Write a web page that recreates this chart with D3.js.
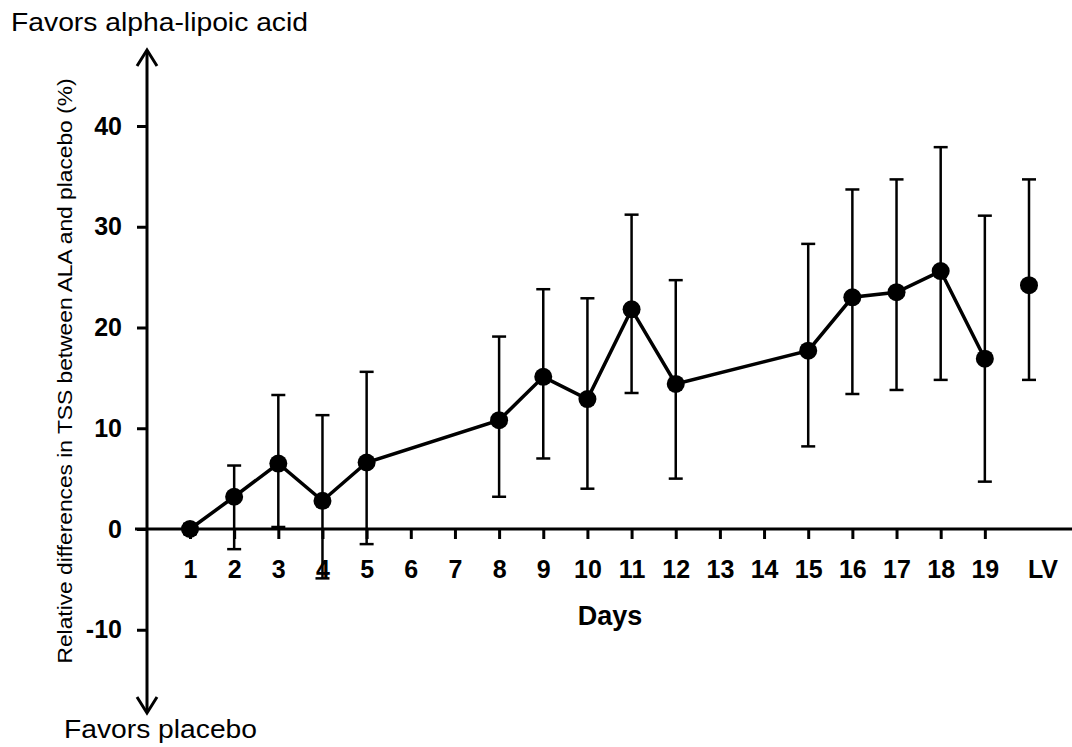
<!DOCTYPE html>
<html>
<head>
<meta charset="utf-8">
<script src="https://cdn.jsdelivr.net/npm/d3@7"></script>
<style>
  body { margin: 0; background: #fff; }
  text { font-family: Arial, "Liberation Sans", sans-serif; fill: #000; }
  .tick text { font-weight: bold; font-size: 25px; }
</style>
</head>
<body>
<div id="chart"></div>
<script>
// categories on the x axis (no data for 6, 7, 13, 14)
var categories = ["1","2","3","4","5","6","7","8","9","10","11","12","13","14","15","16","17","18","19","LV"];
var yTicks = [-10, 0, 10, 20, 30, 40];

var days  = ["1","2","3","4","5","8","9","10","11","12","15","16","17","18","19","LV"];
var means = [0, 3.2, 6.5, 2.8, 6.6, 10.8, 15.1, 12.9, 21.8, 14.4, 17.7, 23.0, 23.5, 25.6, 16.9, 24.2];
var upper = [0.5, 6.3, 13.3, 11.3, 15.6, 19.1, 23.8, 22.9, 31.2, 24.7, 28.3, 33.7, 34.7, 37.9, 31.1, 34.7];
var lower = [-0.5, -2.0, 0.2, -4.9, -1.5, 3.2, 7.0, 4.0, 13.5, 5.0, 8.2, 13.4, 13.8, 14.8, 4.7, 14.8];

function init() {
  var w = 1072;
  var h = 747;

  var dataset = days.map(function(d, i) {
    return { day: d, mean: means[i], hi: upper[i], lo: lower[i] };
  });

  var svg = d3.select("#chart")
              .append("svg")
              .attr("width", w)
              .attr("height", h);

  var xScale = d3.scalePoint()
                 .domain(categories)
                 .range([190, 1029]);

  var yScale = d3.scaleLinear()
                 .domain([-10, 40])
                 .range([629.75, 126]);

  var axisX = 147;
  var zeroY = yScale(0);

  // x axis: ticks for the days only, LV label added by hand
  var xAxis = d3.axisBottom(xScale)
                .tickValues(categories.filter(function(c) { return c !== "LV"; }))
                .tickSize(10)
                .tickPadding(21);

  var gx = svg.append("g")
     .attr("transform", "translate(0," + zeroY + ")")
     .call(xAxis);
  gx.select(".domain").remove();
  gx.selectAll(".tick line").attr("stroke", "#000").attr("stroke-width", 3);

  svg.append("line")
     .attr("x1", 135).attr("x2", w)
     .attr("y1", zeroY).attr("y2", zeroY)
     .attr("stroke", "#000").attr("stroke-width", 3);

  svg.append("text")
     .attr("x", xScale("LV") + 14)
     .attr("y", zeroY + 31)
     .attr("dy", "0.71em")
     .attr("text-anchor", "middle")
     .style("font-weight", "bold")
     .style("font-size", "25px")
     .text("LV");

  // y axis (plain hyphen for negatives, like the original)
  var yAxis = d3.axisLeft(yScale)
                .tickValues(yTicks)
                .tickSize(10)
                .tickPadding(15)
                .tickFormat(function(d) { return String(d); });

  var gy = svg.append("g")
     .attr("transform", "translate(" + axisX + ",0)")
     .call(yAxis);
  gy.select(".domain").remove();
  gy.selectAll(".tick line").attr("stroke", "#000").attr("stroke-width", 3);

  // axis line with arrow heads on both ends
  var top = 50, bottom = 713;
  svg.append("line")
     .attr("x1", axisX).attr("x2", axisX)
     .attr("y1", top + 1).attr("y2", bottom - 1)
     .attr("stroke", "#000").attr("stroke-width", 3);
  svg.append("path")
     .attr("d", "M" + (axisX - 10) + "," + (top + 16) + "L" + axisX + "," + top + "L" + (axisX + 10) + "," + (top + 16))
     .attr("fill", "none").attr("stroke", "#000").attr("stroke-width", 3);
  svg.append("path")
     .attr("d", "M" + (axisX - 10) + "," + (bottom - 16) + "L" + axisX + "," + bottom + "L" + (axisX + 10) + "," + (bottom - 16))
     .attr("fill", "none").attr("stroke", "#000").attr("stroke-width", 3);

  // error bars
  var bars = svg.append("g").attr("stroke", "#000").attr("stroke-width", 2.5);
  bars.selectAll(".ebar")
      .data(dataset)
      .enter().append("line")
      .attr("x1", function(d) { return xScale(d.day); })
      .attr("x2", function(d) { return xScale(d.day); })
      .attr("y1", function(d) { return yScale(d.hi); })
      .attr("y2", function(d) { return yScale(d.lo); });
  bars.selectAll(".capHi")
      .data(dataset)
      .enter().append("line")
      .attr("x1", function(d) { return xScale(d.day) - 7; })
      .attr("x2", function(d) { return xScale(d.day) + 7; })
      .attr("y1", function(d) { return yScale(d.hi); })
      .attr("y2", function(d) { return yScale(d.hi); });
  bars.selectAll(".capLo")
      .data(dataset)
      .enter().append("line")
      .attr("x1", function(d) { return xScale(d.day) - 7; })
      .attr("x2", function(d) { return xScale(d.day) + 7; })
      .attr("y1", function(d) { return yScale(d.lo); })
      .attr("y2", function(d) { return yScale(d.lo); });

  // connecting line (LV is not joined)
  var line = d3.line()
               .x(function(d) { return xScale(d.day); })
               .y(function(d) { return yScale(d.mean); });

  svg.append("path")
     .datum(dataset.filter(function(d) { return d.day !== "LV"; }))
     .attr("d", line)
     .attr("fill", "none")
     .attr("stroke", "#000")
     .attr("stroke-width", 3.5);

  svg.selectAll(".dot")
     .data(dataset)
     .enter().append("circle")
     .attr("cx", function(d) { return xScale(d.day); })
     .attr("cy", function(d) { return yScale(d.mean); })
     .attr("r", 9)
     .attr("fill", "#000");

  // titles
  svg.append("text")
     .attr("x", 610).attr("y", 625)
     .attr("text-anchor", "middle")
     .style("font-weight", "bold")
     .style("font-size", "27px")
     .text("Days");

  svg.append("text")
     .attr("transform", "translate(72,371) rotate(-90)")
     .attr("text-anchor", "middle")
     .attr("textLength", 585)
     .attr("lengthAdjust", "spacingAndGlyphs")
     .style("font-size", "20px")
     .text("Relative differences in TSS between ALA and placebo (%)");

  svg.append("text")
     .attr("x", 11).attr("y", 31)
     .attr("textLength", 297)
     .attr("lengthAdjust", "spacingAndGlyphs")
     .style("font-size", "25px")
     .text("Favors alpha-lipoic acid");

  svg.append("text")
     .attr("x", 64).attr("y", 738)
     .attr("textLength", 193)
     .attr("lengthAdjust", "spacingAndGlyphs")
     .style("font-size", "25px")
     .text("Favors placebo");
}

window.onload = init;
</script>
</body>
</html>
